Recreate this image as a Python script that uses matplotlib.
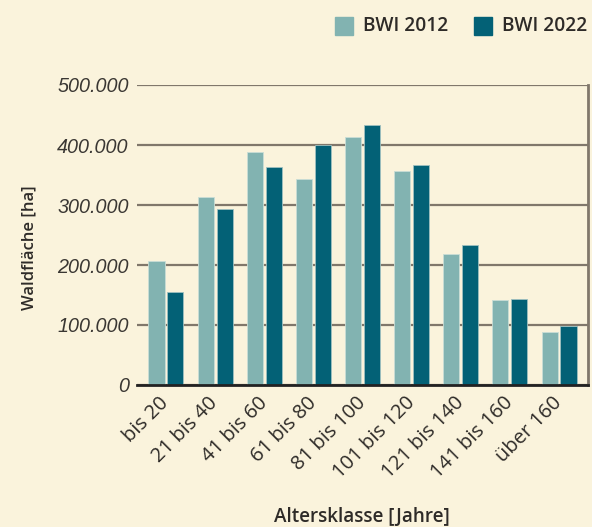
import matplotlib
matplotlib.use("Agg")
import matplotlib.pyplot as plt
import numpy as np
from matplotlib.patches import Rectangle

categories = ["bis 20", "21 bis 40", "41 bis 60", "61 bis 80", "81 bis 100",
              "101 bis 120", "121 bis 140", "141 bis 160", "über 160"]
bwi_2012 = [206000, 313000, 389000, 344000, 413000, 356000, 218000, 141000, 88000]
bwi_2022 = [155000, 293000, 363000, 400000, 433000, 366000, 233000, 143000, 98000]
yticks = [0, 100000, 200000, 300000, 400000, 500000]
ytick_labels = ["0", "100.000", "200.000", "300.000", "400.000", "500.000"]
series_names = ["BWI 2012", "BWI 2022"]

bg = "#FAF3DC"
c_light = "#82B3B1"
c_dark = "#036176"
grid_c = "#80776B"
text_c = "#2E2B28"

plt.rcParams['font.family'] = ['Liberation Sans', 'DejaVu Sans']
lab_font = ['Open Sans', 'DejaVu Sans']

fig = plt.figure(figsize=(5.92, 5.27), dpi=100, facecolor=bg)
ax = fig.add_axes([137/592, 1 - 385/527, (588 - 137)/592, (385 - 85)/527])
ax.set_facecolor(bg)

x = np.arange(len(categories))
w = 0.326
off = 0.193
ax.bar(x - off, bwi_2012, width=w, color=c_light, edgecolor="#C9DDD6", linewidth=0.6, zorder=3)
ax.bar(x + off, bwi_2022, width=w, color=c_dark, edgecolor="#9FC0C0", linewidth=0.6, zorder=3)

ax.set_xlim(-0.59, len(categories) - 1 + 0.59)
ax.set_ylim(0, 500000)
ax.set_yticks(yticks)
ax.set_yticklabels(ytick_labels, fontsize=14.2, style='italic', color="#3A3733")
ax.yaxis.grid(True, color=grid_c, linewidth=1.6, zorder=1)
ax.set_axisbelow(True)
ax.tick_params(axis='y', length=0, pad=6)
ax.tick_params(axis='x', length=0, pad=11)

ax.set_xticks(x)
ax.set_xticklabels(categories, rotation=45, ha='right', va='center',
                   rotation_mode='anchor', fontsize=14.5, fontweight='medium',
                   color=text_c, family=lab_font)

ax.spines['top'].set_visible(False)
ax.spines['left'].set_visible(False)
ax.spines['right'].set_color(grid_c)
ax.spines['right'].set_linewidth(2)
ax.spines['bottom'].set_color("#222222")
ax.spines['bottom'].set_linewidth(2)
ax.spines['bottom'].set_zorder(4)

fig.text(29/592, 1 - 248/527, "Waldfläche [ha]", rotation=90, ha='center', va='center',
         fontsize=12, fontweight='semibold', color=text_c, family=lab_font)
fig.text(362/592, 1 - 517/527, "Altersklasse [Jahre]", ha='center', va='center',
         fontsize=13.6, fontweight='semibold', color=text_c, family=lab_font)

# legend
for i, (name, col, sx) in enumerate(zip(series_names, [c_light, c_dark], [335, 474])):
    fig.patches.append(Rectangle((sx/592, 1 - 35/527), 18/592, 18/527,
                                 transform=fig.transFigure, color=col, figure=fig))
    fig.text((sx + 28)/592, 1 - 26/527, name, ha='left', va='center',
             fontsize=13.8, fontweight='semibold', color=text_c, family=lab_font)

fig.savefig("out.png", dpi=100, facecolor=bg)
